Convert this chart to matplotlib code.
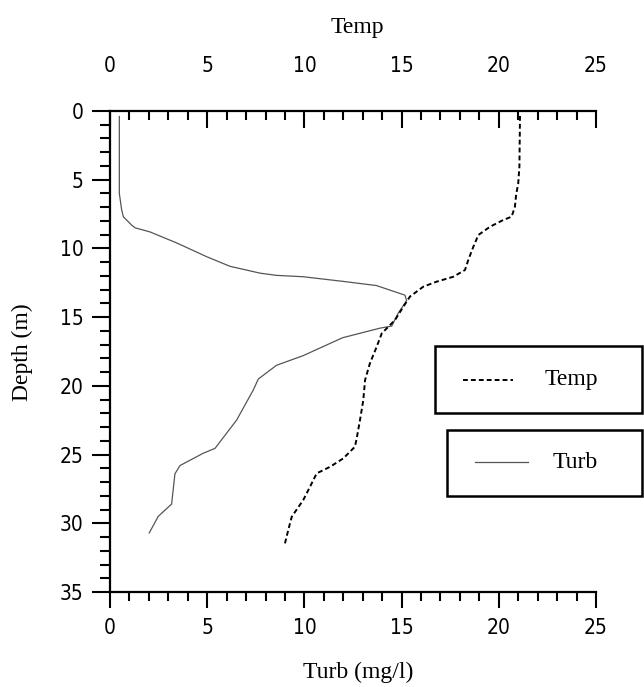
import matplotlib
matplotlib.use("Agg")
import matplotlib.pyplot as plt
from matplotlib.ticker import MultipleLocator
from matplotlib.patches import Rectangle
from matplotlib.lines import Line2D
from matplotlib import font_manager as fm

plt.rcParams['lines.scale_dashes'] = False

# ---- data ----
turb_depth = [0.4, 6.0, 7.2, 7.7, 8.3, 8.5, 8.8, 9.6, 10.6, 11.3, 11.8, 11.96, 12.06,
              12.4, 12.7, 13.4, 13.8, 14.7, 15.65, 15.8, 16.5, 17.8, 18.5, 19.5,
              20.3, 22.5, 24.55, 24.9, 25.8, 26.4, 28.6, 29.5, 30.7]
turb_val = [0.48, 0.48, 0.60, 0.69, 1.11, 1.29, 2.06, 3.43, 4.97, 6.17, 7.72, 8.57, 9.94,
            12.0, 13.7, 15.17, 15.26, 14.83, 14.49, 13.89, 11.96, 9.94, 8.57, 7.63,
            7.37, 6.51, 5.40, 4.80, 3.60, 3.34, 3.17, 2.48, 2.02]

temp_depth = [0.36, 4.05, 5.26, 6.11, 6.96, 7.69, 7.93, 8.42, 9.02, 9.88, 10.84, 11.57,
              12.06, 12.42, 12.78, 13.5, 14.24, 15.21, 16.18, 17.15, 18.36, 19.58,
              21.03, 22.49, 23.82, 24.43, 25.28, 25.89, 26.37, 27.34, 28.31, 29.52,
              30.49, 31.46]
temp_val = [21.09, 21.06, 21.0, 20.89, 20.83, 20.66, 20.23, 19.55, 18.95, 18.69, 18.43,
            18.26, 17.66, 16.8, 16.12, 15.43, 15.09, 14.66, 13.98, 13.72, 13.37, 13.12,
            13.03, 12.86, 12.69, 12.6, 12.0, 11.32, 10.63, 10.29, 9.94, 9.35, 9.17, 9.0]

x_ticks = [0, 5, 10, 15, 20, 25]
y_ticks = [0, 5, 10, 15, 20, 25, 30, 35]
legend_labels = ['Temp', 'Turb']

W, H = 644, 687
def fx(px):
    return px / W
def fy(py):
    return 1 - py / H

serif = ['Liberation Serif', 'DejaVu Serif']
tick_fp = fm.FontProperties(family='DejaVu Sans', stretch='condensed', size=15)

fig = plt.figure(figsize=(W / 100, H / 100), dpi=100)
L, R, T, B = 110, 596, 111, 592
ax = fig.add_axes([fx(L), fy(B), (R - L) / W, (B - T) / H])
ax2 = ax.twiny()

temp_style = dict(color='black', lw=1.4, linestyle=(0, (3.5, 2.2)))
turb_style = dict(color='#555555', lw=0.9, linestyle='-')

ax.plot(turb_val, turb_depth, **turb_style)
ax2.plot(temp_val, temp_depth, **temp_style)

for a in (ax, ax2):
    a.set_xlim(0, 25)
    a.set_ylim(35, 0)

ax.set_xticks(x_ticks)
ax.set_yticks(y_ticks)
ax2.set_xticks(x_ticks)
ax.xaxis.set_minor_locator(MultipleLocator(1))
ax.yaxis.set_minor_locator(MultipleLocator(1))
ax2.xaxis.set_minor_locator(MultipleLocator(1))

lw_sp = 1.6
for s in ('top', 'right'):
    ax.spines[s].set_visible(False)
for s in ('left', 'bottom'):
    ax.spines[s].set_linewidth(lw_sp)
for s in ('left', 'right', 'bottom'):
    ax2.spines[s].set_visible(False)
ax2.spines['top'].set_linewidth(lw_sp)

ax.tick_params(axis='x', which='major', direction='out', length=11.5, width=1.5, pad=7)
ax.tick_params(axis='x', which='minor', direction='out', length=6.5, width=1.5)
ax.tick_params(axis='y', which='major', direction='out', length=13, width=1.5, pad=6)
ax.tick_params(axis='y', which='minor', direction='out', length=7, width=1.5)
ax2.tick_params(axis='x', which='major', direction='in', length=12, width=1.5, pad=25)
ax2.tick_params(axis='x', which='minor', direction='in', length=6.5, width=1.5)

for lab in ax.get_xticklabels() + ax.get_yticklabels() + ax2.get_xticklabels():
    lab.set_fontproperties(tick_fp)

ax.set_xlabel('Turb (mg/l)', family=serif, fontsize=17)
ax.xaxis.set_label_coords((358 - L) / (R - L), (B - 672) / (B - T))
ax.xaxis.label.set_va('center')
ax.set_ylabel('Depth (m)', family=serif, fontsize=17)
ax.yaxis.set_label_coords((22 - L) / (R - L), (B - 352) / (B - T))
ax.yaxis.label.set_va('center')
ax2.set_xlabel('Temp', family=serif, fontsize=17)
ax2.xaxis.set_label_coords((357 - L) / (R - L), (B - 27) / (B - T))
ax2.xaxis.label.set_va('center')

# ---- two separate legend boxes ----
boxes = [(435, 346, 642, 413), (447, 430, 642, 496)]
handle_pos = [(463, 513, 380), (475, 528, 462)]
text_pos = [(545, 380), (553, 462)]
styles = [temp_style, turb_style]
for (x0, y0, x1, y1), (hx0, hx1, hy), (tx, ty), st, lab in zip(boxes, handle_pos, text_pos, styles, legend_labels):
    fig.add_artist(Rectangle((fx(x0), fy(y1)), (x1 - x0) / W, (y1 - y0) / H,
                             transform=fig.transFigure, fill=False, ec='black', lw=1.8))
    fig.add_artist(Line2D([fx(hx0), fx(hx1)], [fy(hy), fy(hy)], transform=fig.transFigure, **st))
    fig.text(fx(tx), fy(ty), lab, family=serif, fontsize=17, ha='left', va='center')

fig.savefig('out.png', dpi=100)
